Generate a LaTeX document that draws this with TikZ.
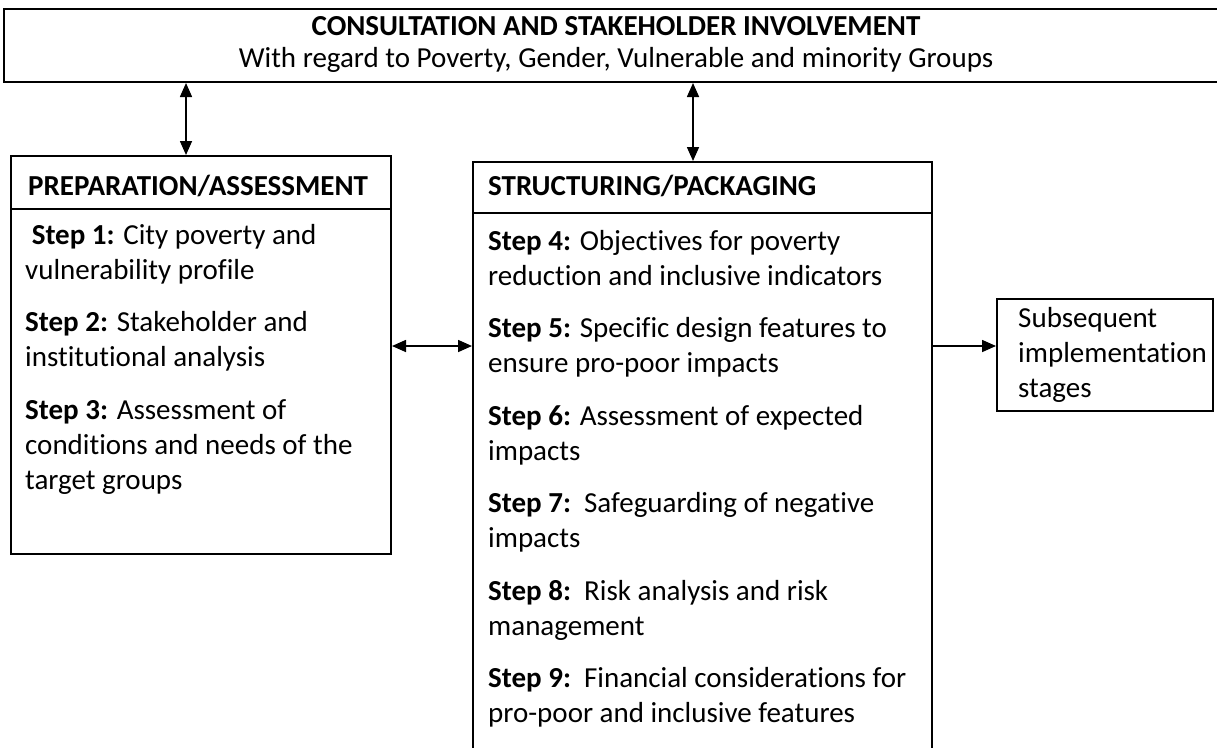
\documentclass[tikz,border=0pt]{standalone}
\usepackage{fontspec}
\setmainfont{Carlito}[Ligatures=NoCommon]
\usetikzlibrary{arrows.meta}
\begin{document}
\begin{tikzpicture}[x=1pt,y=-1pt,
  frame/.style={draw=black, line width=2pt, inner sep=0pt, anchor=north west},
  rule/.style={draw=black, line width=2pt},
  body/.style={anchor=base west, inner sep=0pt, align=flush left, text width=#1,
    font=\fontsize{29}{35}\selectfont},
  tip/.tip={Triangle[length=14pt,width=12pt]},
  link/.style={line width=1.6pt, -tip},
  twoway/.style={line width=1.6pt, tip-tip},
]
\path[use as bounding box] (0,0) rectangle (1217,747);
\clip (0,0) rectangle (1217,747);

% boxes
\node[frame, minimum width=1227pt, minimum height=73pt] (top) at (3,8) {};
\node[frame, minimum width=380pt, minimum height=398pt] (prep) at (10,155) {};
\node[frame, minimum width=459pt, minimum height=620pt] (struct) at (472,161) {};
\node[frame, minimum width=216pt, minimum height=112pt] (next) at (996,298) {};

% header dividers
\draw[rule] ([yshift=-54pt]prep.north west) -- ([yshift=-54pt]prep.north east);
\draw[rule] ([yshift=-52pt]struct.north west) -- ([yshift=-52pt]struct.north east);

% texts
\node[body=1200pt, align=flush center, anchor=base] (toptext) at (616,35)
  {\textbf{CONSULTATION AND STAKEHOLDER INVOLVEMENT}\\[-3pt]
   With regard to Poverty, Gender, Vulnerable and minority Groups};

\node[body=360pt] (prephead) at (28,195) {\textbf{PREPARATION/ASSESSMENT}};
\node[body=440pt] (structhead) at (488,195) {\textbf{STRUCTURING/PACKAGING}};

\node[body=360pt] (prepbody) at (25,244)
  {\hspace*{6.6pt}\textbf{Step 1:} City poverty and\\
   vulnerability profile\\[17.5pt]
   \textbf{Step 2:} Stakeholder and\\
   institutional analysis\\[17.5pt]
   \textbf{Step 3:} Assessment of\\
   conditions and needs of the\\
   target groups};

\node[body=440pt] (structbody) at (488,250)
  {\textbf{Step 4:} Objectives for poverty\\
   reduction and inclusive indicators\\[17.5pt]
   \textbf{Step 5:} Specific design features to\\
   ensure pro-poor impacts\\[17.5pt]
   \textbf{Step 6:} Assessment of expected\\
   impacts\\[17.5pt]
   \textbf{Step 7:}\ \ Safeguarding of negative\\
   impacts\\[17.5pt]
   \textbf{Step 8:}\ \ Risk analysis and risk\\
   management\\[17.5pt]
   \textbf{Step 9:}\ \ Financial considerations for\\
   pro-poor and inclusive features};

\node[body=200pt] (nexttext) at (1018,327)
  {Subsequent\\ implementation\\ stages};

% connectors
\coordinate (a1) at (186,0);
\coordinate (a2) at (693,0);
\coordinate (h) at (0,346);
\draw[twoway] (top.south -| a1) -- (prep.north -| a1);
\draw[twoway] (top.south -| a2) -- (struct.north -| a2);
\draw[twoway] (prep.east |- h) -- (struct.west |- h);
\draw[link] (struct.east |- h) -- (next.west |- h);
\end{tikzpicture}
\end{document}
